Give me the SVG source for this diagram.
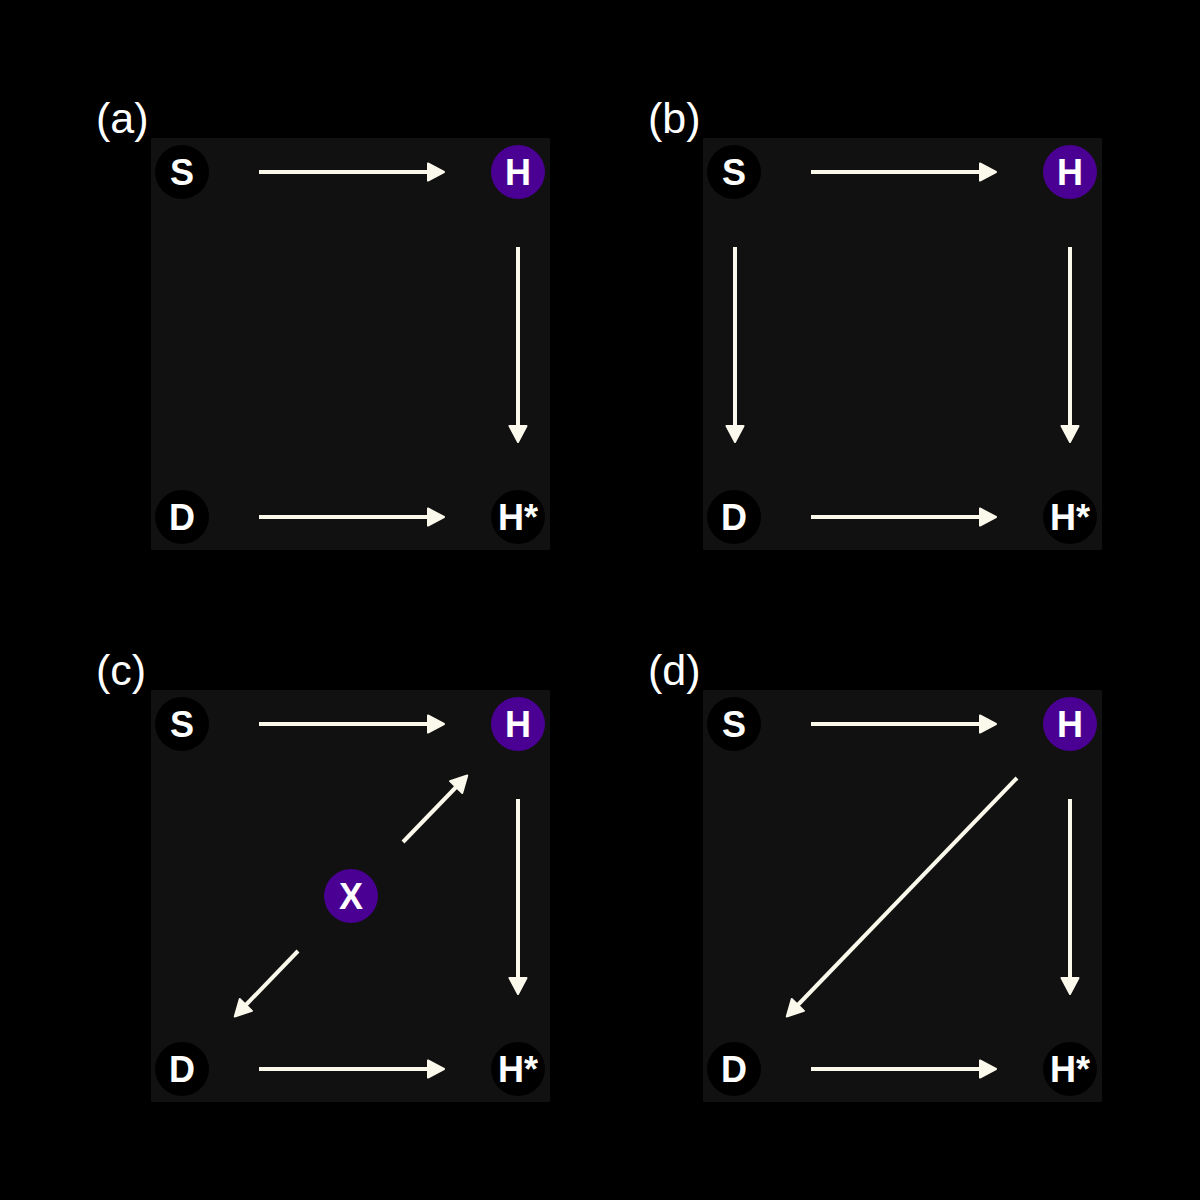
<svg xmlns="http://www.w3.org/2000/svg" width="1200" height="1200" viewBox="0 0 1200 1200">
<style>
.panel{fill:#111111}
.dark{fill:#000000}
.purple{fill:#4a0092}
.nl{font-family:"Liberation Sans",Arial,sans-serif;font-weight:bold;font-size:36px;fill:#ffffff;text-anchor:middle}
.pl{font-family:"Liberation Sans",Arial,sans-serif;font-size:43px;fill:#ffffff}
.edge{stroke:#fbf9ec;stroke-width:4;fill:none;marker-end:url(#ah)}
</style>
<defs>
<marker id="ah" markerUnits="userSpaceOnUse" viewBox="-2 -12 22 24" markerWidth="22" markerHeight="24" refX="7" refY="0" orient="auto">
<path d="M0,-8.5 L16,0 L0,8.5 Z" fill="#fbf9ec" stroke="#fbf9ec" stroke-width="2" stroke-linejoin="round"/>
</marker>
</defs>
<rect width="1200" height="1200" fill="#000000"/>
<rect class="panel" x="151" y="138" width="399" height="412"/>
<rect class="panel" x="703" y="138" width="399" height="412"/>
<rect class="panel" x="151" y="690" width="399" height="412"/>
<rect class="panel" x="703" y="690" width="399" height="412"/>
<text class="pl" x="96" y="133">(a)</text>
<text class="pl" x="648" y="133">(b)</text>
<text class="pl" x="96" y="685">(c)</text>
<text class="pl" x="648" y="685">(d)</text>
<g id="connectors">
<line class="edge" x1="259" y1="172" x2="435" y2="172"/>
<line class="edge" x1="518" y1="247" x2="518" y2="433"/>
<line class="edge" x1="259" y1="517" x2="435" y2="517"/>
<line class="edge" x1="811" y1="172" x2="987" y2="172"/>
<line class="edge" x1="1070" y1="247" x2="1070" y2="433"/>
<line class="edge" x1="735" y1="247" x2="735" y2="433"/>
<line class="edge" x1="811" y1="517" x2="987" y2="517"/>
<line class="edge" x1="259" y1="724" x2="435" y2="724"/>
<line class="edge" x1="518" y1="799" x2="518" y2="985"/>
<line class="edge" x1="259" y1="1069" x2="435" y2="1069"/>
<line class="edge" x1="403" y1="842" x2="461" y2="782"/>
<line class="edge" x1="298" y1="951" x2="241" y2="1010"/>
<line class="edge" x1="811" y1="724" x2="987" y2="724"/>
<line class="edge" x1="1070" y1="799" x2="1070" y2="985"/>
<line class="edge" x1="811" y1="1069" x2="987" y2="1069"/>
<line class="edge" x1="1017" y1="778" x2="793" y2="1010"/>
</g>
<g id="a-S"><circle class="dark" cx="182" cy="172" r="27"/><text class="nl" x="182" y="185">S</text></g>
<g id="a-H"><circle class="purple" cx="518" cy="172" r="27"/><text class="nl" x="518" y="185">H</text></g>
<g id="a-D"><circle class="dark" cx="182" cy="517" r="27"/><text class="nl" x="182" y="530">D</text></g>
<g id="a-Hstar"><circle class="dark" cx="518" cy="517" r="27"/><text class="nl" x="518" y="530">H*</text></g>
<g id="b-S"><circle class="dark" cx="734" cy="172" r="27"/><text class="nl" x="734" y="185">S</text></g>
<g id="b-H"><circle class="purple" cx="1070" cy="172" r="27"/><text class="nl" x="1070" y="185">H</text></g>
<g id="b-D"><circle class="dark" cx="734" cy="517" r="27"/><text class="nl" x="734" y="530">D</text></g>
<g id="b-Hstar"><circle class="dark" cx="1070" cy="517" r="27"/><text class="nl" x="1070" y="530">H*</text></g>
<g id="c-S"><circle class="dark" cx="182" cy="724" r="27"/><text class="nl" x="182" y="737">S</text></g>
<g id="c-H"><circle class="purple" cx="518" cy="724" r="27"/><text class="nl" x="518" y="737">H</text></g>
<g id="c-D"><circle class="dark" cx="182" cy="1069" r="27"/><text class="nl" x="182" y="1082">D</text></g>
<g id="c-Hstar"><circle class="dark" cx="518" cy="1069" r="27"/><text class="nl" x="518" y="1082">H*</text></g>
<g id="c-X"><circle class="purple" cx="351" cy="896" r="27"/><text class="nl" x="351" y="909">X</text></g>
<g id="d-S"><circle class="dark" cx="734" cy="724" r="27"/><text class="nl" x="734" y="737">S</text></g>
<g id="d-H"><circle class="purple" cx="1070" cy="724" r="27"/><text class="nl" x="1070" y="737">H</text></g>
<g id="d-D"><circle class="dark" cx="734" cy="1069" r="27"/><text class="nl" x="734" y="1082">D</text></g>
<g id="d-Hstar"><circle class="dark" cx="1070" cy="1069" r="27"/><text class="nl" x="1070" y="1082">H*</text></g>
</svg>
